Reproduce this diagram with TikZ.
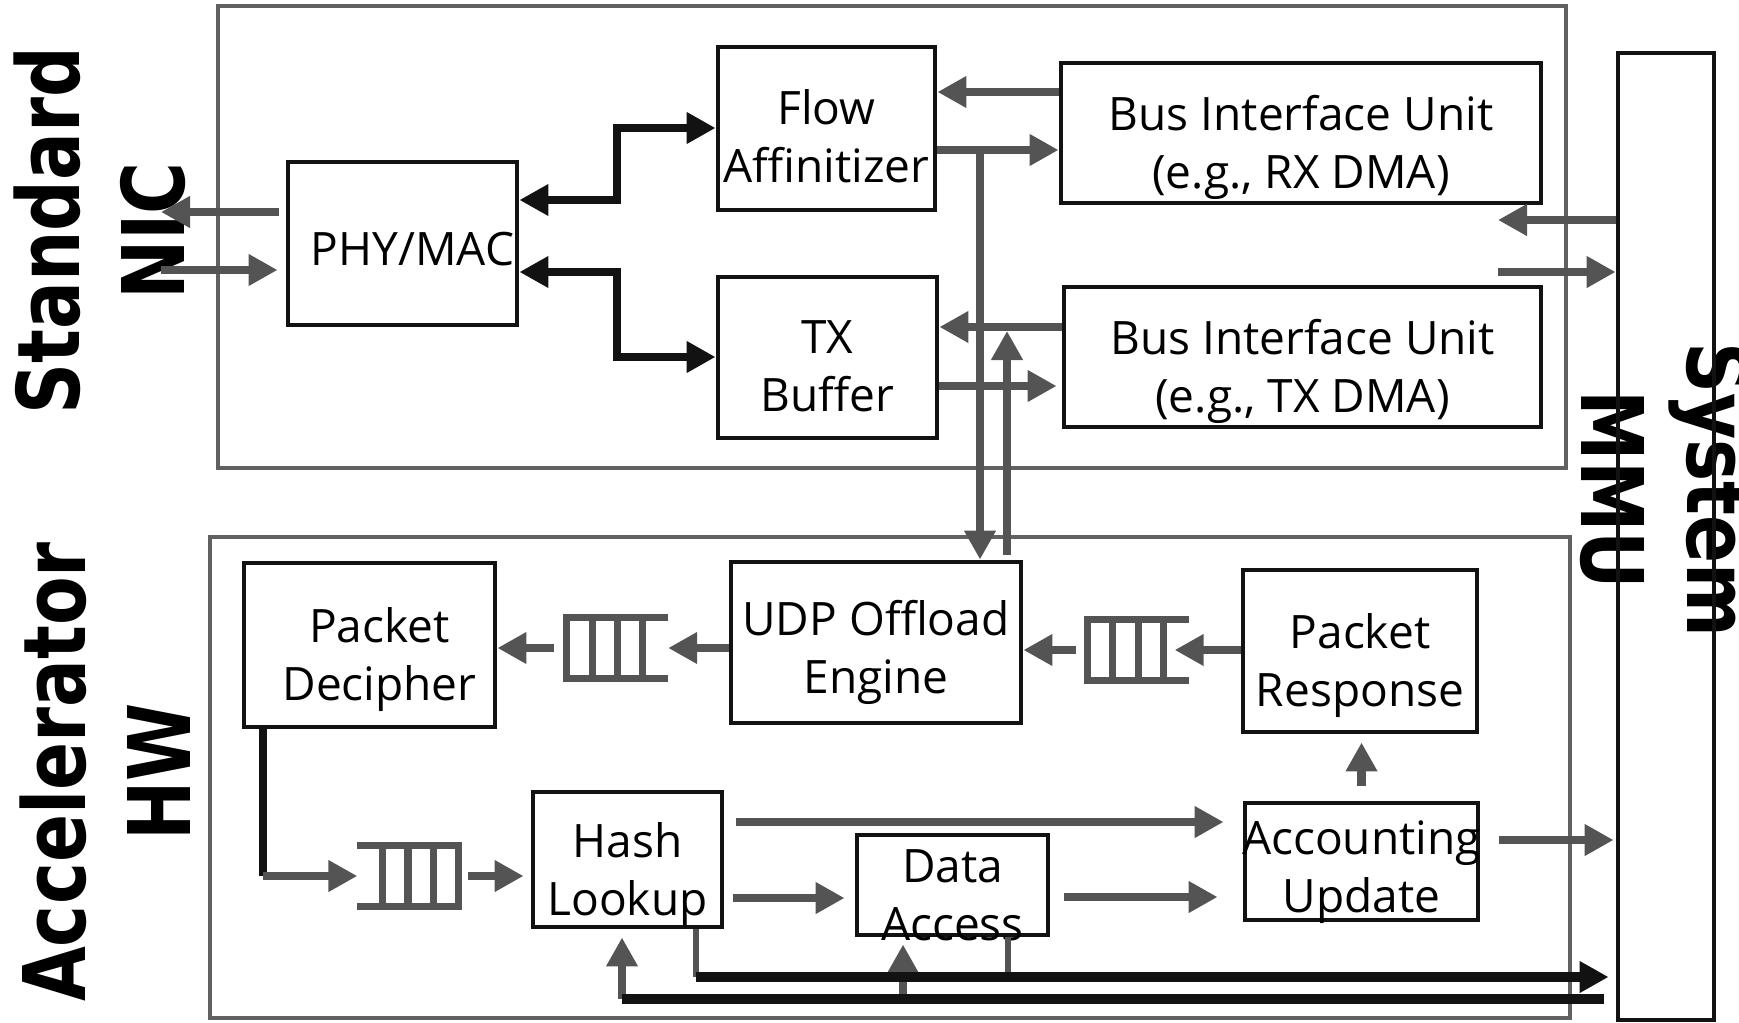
\documentclass[tikz,border=0pt]{standalone}
\usepackage{fontspec}
\setmainfont{Open Sans}
\newfontfamily\sidefont{DejaVu Sans}
\usepackage{tikz}
\usetikzlibrary{arrows.meta}
\usetikzlibrary{calc}

\newcommand{\boxfont}{\fontsize{13.1}{16.5}\selectfont}
\newcommand{\sidefontsize}{\fontsize{24.6}{30}\selectfont}
\newcommand{\squeeze}[1]{\scalebox{0.82}[1]{#1}}

\begin{document}
\begin{tikzpicture}[x = 1cm, y = -1cm, >={Triangle[length=2.9mm, width=3mm]},
    blk/.style = {draw=black!93, line width=1.4pt, inner sep=0pt},
    grp/.style = {draw=black!62, line width=1.1pt, inner sep=0pt},
    fifo/.style = {inner sep=0pt, minimum width=1cm, minimum height=0.6cm},
    fifoline/.style = {draw=black!67, line width=2pt},
    txt/.style = {align=center, font=\boxfont, inner sep=0pt},
    side/.style = {align=center, font=\sidefont\bfseries\sidefontsize, inner sep=0pt},
    garrow/.style = {->, draw=black!67, line width=2.3pt},
    gline/.style = {draw=black!67, line width=1.8pt},
    barrow/.style = {draw=black!93, line width=2.3pt},
    bbus/.style = {draw=black!93, line width=2.8pt}]
    \useasboundingbox (0, 0) rectangle (17.39, 10.22);

    %% side labels
    \node[side, rotate=90] (niclbl) at (1.0, 2.31) {\squeeze{Standard}\\\squeeze{NIC}};
    \node[side, rotate=90] (acclbl) at (1.05, 7.72) {\squeeze{Accelerator}\\\squeeze{HW}};
    \node[side, rotate=-90] (mmulbl) at (16.66, 4.90) {\squeeze{System}\\\squeeze{MMU}};

    %% frames
    \node[grp, minimum width=13.48cm, minimum height=4.62cm] (nic) at (8.92, 2.37) {};
    \node[grp, minimum width=13.60cm, minimum height=4.81cm] (acc) at (8.90, 7.775) {};
    \node[blk, minimum width=0.96cm, minimum height=9.67cm] (mmu) at (16.66, 5.365) {};

    %% standard NIC blocks
    \node[blk, minimum width=2.29cm, minimum height=1.63cm,
        label={[txt, xshift=1mm, yshift=-0.55mm]center:PHY/MAC}] (phy) at (4.025, 2.435) {};
    \node[blk, minimum width=2.17cm, minimum height=1.63cm,
        label={[txt, yshift=-0.8mm]center:Flow\\Affinitizer}] (flow) at (8.265, 1.285) {};
    \node[blk, minimum width=2.19cm, minimum height=1.61cm,
        label={[txt, yshift=-0.9mm]center:TX\\Buffer}] (txbuf) at (8.275, 3.575) {};
    \node[blk, minimum width=4.80cm, minimum height=1.40cm,
        label={[txt, yshift=-1.4mm]center:{Bus Interface Unit\\(e.g., RX DMA)}}] (busrx) at (13.01, 1.33) {};
    \node[blk, minimum width=4.77cm, minimum height=1.40cm,
        label={[txt, yshift=-1.4mm]center:{Bus Interface Unit\\(e.g., TX DMA)}}] (bustx) at (13.025, 3.57) {};

    %% accelerator blocks
    \node[blk, minimum width=2.51cm, minimum height=1.64cm,
        label={[txt, xshift=1mm, yshift=-1.5mm]center:Packet\\Decipher}] (decipher) at (3.695, 6.45) {};
    \node[blk, minimum width=2.90cm, minimum height=1.61cm,
        label={[txt, yshift=-1mm]center:UDP Offload\\Engine}] (udp) at (8.76, 6.425) {};
    \node[blk, minimum width=2.34cm, minimum height=1.62cm,
        label={[txt, yshift=-1.5mm]center:Packet\\Response}] (resp) at (13.60, 6.51) {};
    \node[blk, minimum width=1.89cm, minimum height=1.35cm,
        label={[txt, yshift=-1.5mm]center:Hash\\Lookup}] (hash) at (6.275, 8.595) {};
    \node[blk, minimum width=1.91cm, minimum height=1.00cm,
        label={[txt, yshift=-1.05mm]center:Data\\Access}] (data) at (9.525, 8.85) {};
    \node[blk, minimum width=2.33cm, minimum height=1.17cm,
        label={[txt, yshift=-1.05mm]center:Accounting\\Update}] (acct) at (13.615, 8.615) {};

    %% queues
    \node[fifo] (q1) at (6.175, 6.48) {};
    \node[fifo] (q2) at (11.38, 6.50) {};
    \node[fifo] (q3) at (4.08, 8.76) {};
    \foreach \q/\c/\o in {q1/west/east, q2/west/east, q3/east/west} {
        \draw[fifoline] (\q.north \o) -- (\q.north \c) -- (\q.south \c) -- (\q.south \o);
        \foreach \f in {0.25, 0.5, 0.75}
            \draw[fifoline] ($(\q.north \c)!\f!(\q.north \o)$) -- ($(\q.south \c)!\f!(\q.south \o)$);
    }

    %% network side
    \coordinate (wireout) at (1.61, 2.12);
    \coordinate (wirein) at (1.61, 2.70);
    \draw[garrow, shorten <=0.7mm] (phy.west |- wireout) -- (wireout);
    \draw[garrow, shorten >=0.8mm] (wirein) -- (phy.west |- wirein);

    %% phy to rx/tx path
    \draw[barrow, <->] (phy.east |- 0, 2.00) -| (6.17, 1.28) -- (flow.west |- 0, 1.28);
    \draw[barrow, <->] (phy.east |- 0, 2.72) -| (6.17, 3.57) -- (txbuf.west |- 0, 3.57);

    %% bus interface
    \draw[garrow] (busrx.west |- 0, 0.92) -- (flow.east |- 0, 0.92);
    \draw[garrow] (flow.east |- 0, 1.50) -- (busrx.west |- 0, 1.50);
    \draw[garrow] (bustx.west |- 0, 3.27) -- (txbuf.east |- 0, 3.27);
    \draw[garrow, shorten >=0.5mm] (txbuf.east |- 0, 3.86) -- (bustx.west |- 0, 3.86);
    \coordinate (busout) at (14.98, 2.20);
    \coordinate (busin) at (14.98, 2.72);
    \draw[garrow] (mmu.west |- busout) -- (busout);
    \draw[garrow] (busin) -- (mmu.west |- busin);

    %% nic <-> accelerator
    \coordinate (tap) at (9.80, 1.50);
    \coordinate (udpup) at (10.07, 5.55);
    \draw[garrow] (tap) -- (udp.north -| tap);
    \draw[garrow] (udpup) -- (udpup |- 0, 3.31);

    %% accelerator pipeline
    \draw[garrow] (udp.west |- q1) -- (q1.east);
    \draw[garrow, shorten <=1.3mm] (q1.west) -- (decipher.east |- q1.west);
    \draw[garrow] (resp.west |- q2) -- ([xshift=-1.4mm]q2.east);
    \draw[garrow, shorten <=1.1mm] (q2.west) -- (udp.east |- q2.west);
    \coordinate (bend) at (2.63, 8.76);
    \draw[barrow] (decipher.south -| bend) -- (bend);
    \draw[garrow] (bend) -- (q3.west);
    \draw[garrow, shorten <=0.9mm, shorten >=0.7mm] (q3.east) -- (hash.west |- q3.east);
    \draw[garrow, shorten <=1.2mm, shorten >=1.9mm] (hash.east |- 0, 8.22) -- (acct.west |- 0, 8.22);
    \draw[garrow, shorten <=0.9mm, shorten >=1mm] (hash.east |- 0, 8.98) -- (data.west |- 0, 8.98);
    \draw[garrow, shorten <=1.4mm, shorten >=2.5mm] (data.east |- 0, 8.97) -- (acct.west |- 0, 8.97);
    \draw[garrow, shorten <=1.5mm, shorten >=0.8mm] (acct.north) -- (acct.north |- resp.south);
    \draw[garrow, shorten <=1.9mm, shorten >=0.2mm] (acct.east |- 0, 8.40) -- (mmu.west |- 0, 8.40);

    %% memory buses
    \coordinate (hashdrop) at (6.96, 9.77);
    \coordinate (hashret) at (6.22, 9.99);
    \coordinate (dataret) at (9.03, 9.99);
    \draw[gline] (hash.south -| hashdrop) -- (hashdrop);
    \draw[gline] (data.south -| 10.08, 0) -- (10.08, 9.77);
    \draw[garrow, shorten >=0.8mm] (hashret) -- (hashret |- hash.south);
    \draw[garrow, shorten >=0.7mm] (dataret) -- (dataret |- data.south);
    \draw[bbus, ->, shorten >=0.7mm] (hashdrop) -- (mmu.west |- hashdrop);
    \draw[bbus, shorten <=1.2mm] (mmu.west |- hashret) -- (hashret);
\end{tikzpicture}
\end{document}
